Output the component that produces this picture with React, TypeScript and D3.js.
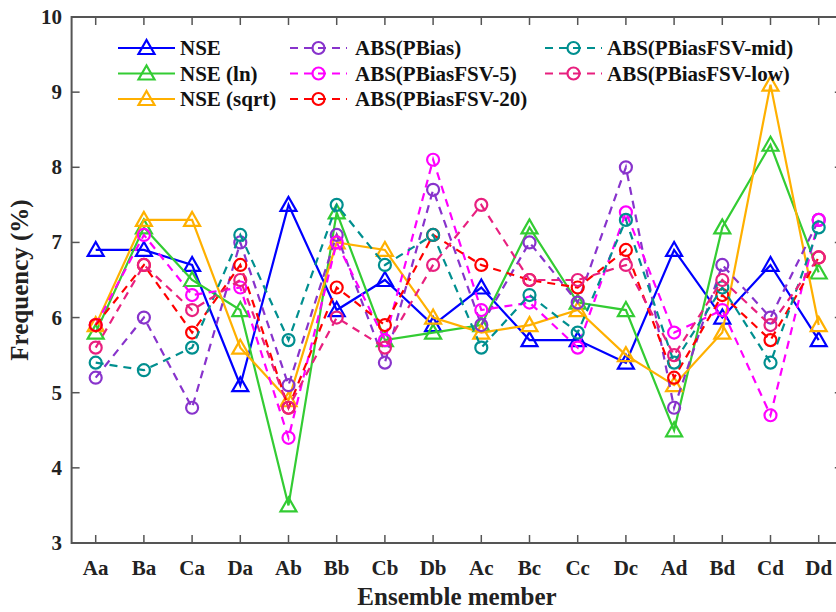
import React from "react";
import * as d3 from "d3";

const categories = ["Aa","Ba","Ca","Da","Ab","Bb","Cb","Db","Ac","Bc","Cc","Dc","Ad","Bd","Cd","Dd"];
const nse = [6.9,6.9,6.7,5.1,7.5,6.1,6.5,5.9,6.4,5.7,5.7,5.4,6.9,6.0,6.7,5.7];
const nseLn = [5.8,7.2,6.5,6.1,3.5,7.4,5.7,5.8,5.9,7.2,6.2,6.1,4.5,7.2,8.3,6.6];
const nseSqrt = [5.9,7.3,7.3,5.6,4.9,7.0,6.9,6.0,5.8,5.9,6.1,5.5,5.1,5.8,9.1,5.9];
const absPBias = [5.2,6.0,4.8,7.0,5.1,7.1,5.4,7.7,5.9,7.0,6.2,8.0,4.8,6.7,6.0,7.3];
const absFsv5 = [5.9,7.1,6.3,6.4,4.4,7.0,5.7,8.1,6.1,6.2,5.6,7.4,5.8,6.1,4.7,7.3];
const absFsv20 = [5.9,6.7,5.8,6.7,4.8,6.4,5.9,7.1,6.7,6.5,6.4,6.9,5.2,6.3,5.7,6.8];
const absFsvMid = [5.4,5.3,5.6,7.1,5.7,7.5,6.7,7.1,5.6,6.3,5.8,7.3,5.4,6.4,5.4,7.2];
const absFsvLow = [5.6,6.7,6.1,6.5,4.8,6.0,5.6,6.7,7.5,6.5,6.5,6.7,5.5,6.5,5.9,6.8];
const yTicks = [3,4,5,6,7,8,9,10];

const seriesNames = ["NSE","NSE (ln)","NSE (sqrt)","ABS(PBias)","ABS(PBiasFSV-5)","ABS(PBiasFSV-20)","ABS(PBiasFSV-mid)","ABS(PBiasFSV-low)"];
const seriesData = [nse, nseLn, nseSqrt, absPBias, absFsv5, absFsv20, absFsvMid, absFsvLow];
const seriesColors = ["#0000ff","#33cc33","#ffb000","#8833cc","#ff00ff","#ff0000","#008f8f","#e8207f"];
const seriesMarker = ["tri","tri","tri","circ","circ","circ","circ","circ"];

const FONT = "'Liberation Serif', 'Times New Roman', serif";

export default function App() {
  const W = 836, H = 612;
  const axL = 71.6, axR = 842.8, axT = 17, axB = 543;
  const x = d3.scalePoint<string>().domain(categories).range([95.7, 818.7]);
  const y = d3.scaleLinear().domain([3, 10]).range([axB, axT]);
  const line = d3.line<number>().x((_, i) => x(categories[i])!).y(d => y(d));
  const axisColor = "#555";
  const tickLen = 8;

  const marker = (kind: string, cx: number, cy: number, color: string, key: string) => {
    if (kind === "tri") {
      const s = 8;
      const pts = `${cx},${cy - s} ${cx - s},${cy + s * 0.75} ${cx + s},${cy + s * 0.75}`;
      return <polygon key={key} points={pts} fill="none" stroke={color} strokeWidth={2.2} />;
    }
    return <circle key={key} cx={cx} cy={cy} r={6} fill="none" stroke={color} strokeWidth={2.2} />;
  };

  const legendCols = [
    { lx: 118, tx: 180 },
    { lx: 290, tx: 355 },
    { lx: 545, tx: 607 },
  ];
  const legendRows = [48, 73.5, 99];

  return (
    <svg width={W} height={H} style={{ position: "absolute", left: 0, top: 0, background: "#fff" }}>
      <rect x={0} y={0} width={W} height={H} fill="#fff" />
      {seriesData.map((data, si) => (
        <g key={si}>
          <path d={line(data) || ""} fill="none" stroke={seriesColors[si]} strokeWidth={2.2}
            strokeDasharray={seriesMarker[si] === "circ" ? "8,6" : undefined} />
          {data.map((v, i) => marker(seriesMarker[si], x(categories[i])!, y(v), seriesColors[si], `m${si}-${i}`))}
        </g>
      ))}
      <rect x={axL} y={axT} width={axR - axL} height={axB - axT} fill="none" stroke={axisColor} strokeWidth={2} />
      {categories.map(c => (
        <g key={c}>
          <line x1={x(c)} x2={x(c)} y1={axB} y2={axB - tickLen} stroke={axisColor} strokeWidth={1.5} />
          <line x1={x(c)} x2={x(c)} y1={axT} y2={axT + tickLen} stroke={axisColor} strokeWidth={1.5} />
          <text x={x(c)} y={575} textAnchor="middle" fontFamily={FONT} fontWeight={700} fontSize={21} fill="#222">{c}</text>
        </g>
      ))}
      {yTicks.map(t => (
        <g key={t}>
          <line x1={axL} x2={axL + tickLen} y1={y(t)} y2={y(t)} stroke={axisColor} strokeWidth={1.5} />
          <line x1={axR} x2={axR - tickLen} y1={y(t)} y2={y(t)} stroke={axisColor} strokeWidth={1.5} />
          <text x={62} y={y(t) + 7} textAnchor="end" fontFamily={FONT} fontWeight={700} fontSize={21} fill="#222">{t}</text>
        </g>
      ))}
      <text x={457} y={605} textAnchor="middle" fontFamily={FONT} fontWeight={700} fontSize={25} fill="#222">Ensemble member</text>
      <text transform={`translate(28,${(axT + axB) / 2}) rotate(-90)`} textAnchor="middle" fontFamily={FONT} fontWeight={700} fontSize={25} fill="#222">Frequency (%)</text>
      {seriesNames.map((name, si) => {
        const col = Math.floor(si / 3);
        const row = si % 3;
        const { lx, tx } = legendCols[col];
        const ly = legendRows[row];
        const color = seriesColors[si];
        return (
          <g key={name}>
            <line x1={lx} x2={lx + 57} y1={ly} y2={ly} stroke={color} strokeWidth={2.2}
              strokeDasharray={seriesMarker[si] === "circ" ? "8,6" : undefined} />
            {marker(seriesMarker[si], lx + 28.5, ly, color, `lg${si}`)}
            <text x={tx} y={ly + 7} fontFamily={FONT} fontWeight={700} fontSize={21} fill="#111">{name}</text>
          </g>
        );
      })}
    </svg>
  );
}
